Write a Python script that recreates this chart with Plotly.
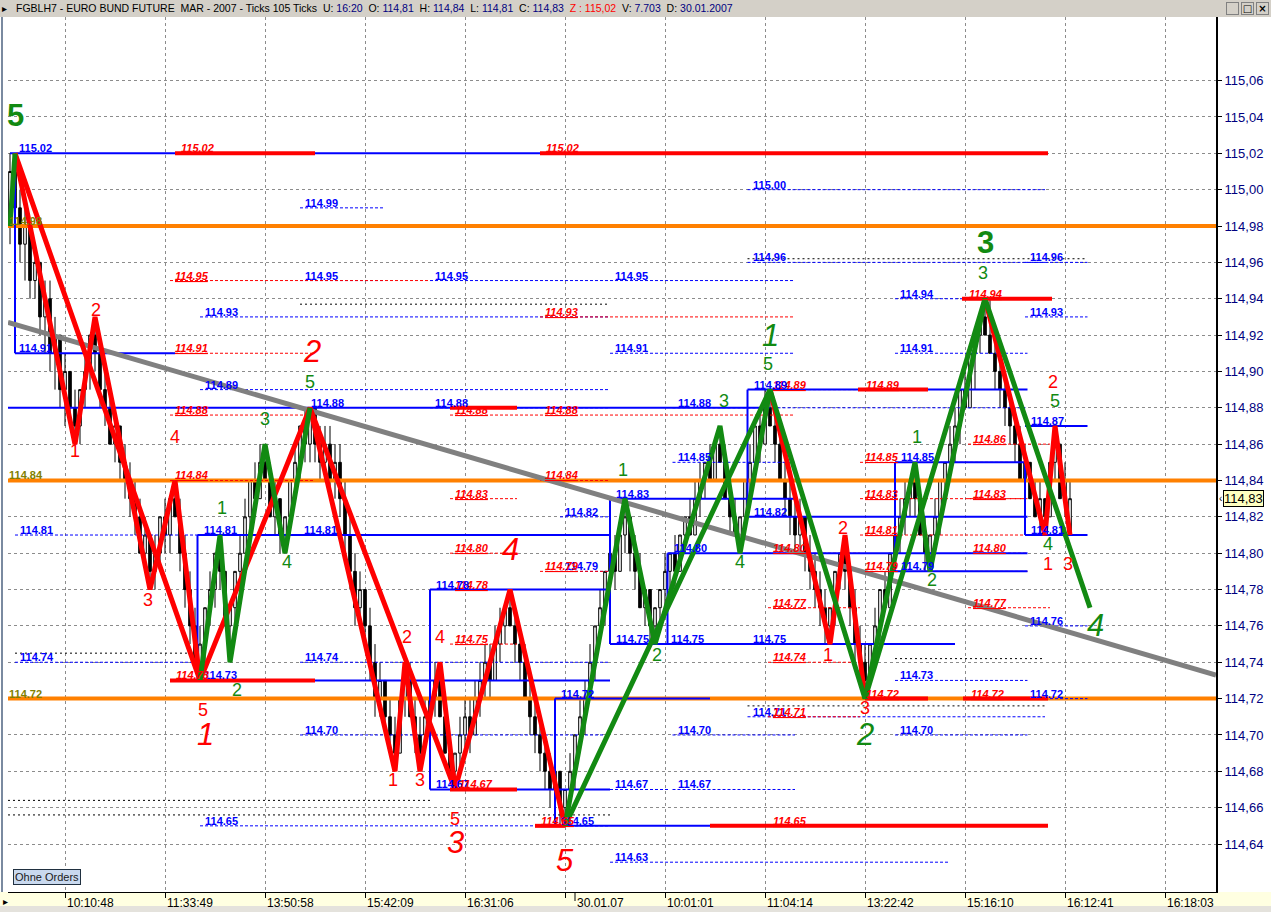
import plotly.graph_objects as go

# ---------------- data (prices in hundredths above 114.00, e.g. 102 -> 115.02) ----------------
OPEN = [98,101,99,97,98,95,96,93,94,91, 92,89,90,88,87,89,90,92,91,89,
        88,86,87,85,84,83,82,80,81,79, 80,82,81,83,82,80,78,76,74,75,
        77,78,80,79,76,77,79,80,82,84, 83,85,84,82,83,81,82,84,85,87,
        86,88,86,85,86,84,85,83,81,79, 77,78,76,74,72,73,71,70,69,72,
        73,71,70,70,71,72,73,71,69,68, 69,70,71,70,72,73,74,73,75,76,
        77,76,75,74,72,71,70,69,68,67, 68,66,67,68,70,71,72,74,76,77,
        79,80,79,81,82,80,79,77,78,76, 77,78,79,80,79,81,82,81,83,84,
        85,84,86,85,83,82,81,82,84,85, 87,86,88,87,86,84,83,82,81,82,
        80,79,78,77,76,77,79,80,79,77, 75,74,73,75,76,78,77,80,81,82,
        83,84,83,81,80,81,82,84,85,86, 87,89,88,91,92,93,92,91,90,89,
        88,87,86,84,85,83,82,83,82,85, 86,83,81]
HIGH = [102,102,100,99,98,97,96,95,95,93, 92,91,90,89,89,91,92,93,92,90,
        89,88,87,86,85,84,83,82,81,81, 82,83,83,84,83,81,79,77,76,77,
        79,80,81,79,77,79,81,83,84,85, 86,86,85,84,83,82,84,86,87,88,
        88,88,87,87,87,86,86,84,82,80, 79,78,77,75,74,73,72,71,72,74,
        74,72,71,72,73,74,74,72,70,69, 71,72,72,73,74,75,75,76,77,77,
        78,77,76,75,73,72,71,70,69,68, 68,67,69,70,72,73,75,76,78,79,
        81,81,82,83,82,81,80,78,78,77, 78,80,80,81,81,82,83,84,85,85,
        86,86,87,86,84,83,82,84,86,87, 88,89,89,88,87,85,84,83,83,82,
        81,80,79,78,77,79,80,81,79,78, 76,75,75,77,78,79,80,81,83,84,
        84,85,83,82,81,83,84,85,87,88, 89,90,91,92,93,94,94,92,91,90,
        89,88,87,86,85,84,84,83,85,87, 86,85,84]
LOW = [97,99,96,95,94,94,92,91,90,89, 88,87,87,86,86,88,89,90,88,87,
       86,85,84,83,82,81,80,79,78,78, 79,80,80,82,79,77,75,74,73,74,
       76,77,78,76,74,76,78,80,81,82, 83,84,82,81,80,80,81,83,84,85,
       85,85,84,84,83,83,82,80,78,76, 76,75,73,71,71,70,69,68,69,71,
       71,69,68,69,70,71,71,69,68,67, 68,69,69,70,71,72,72,73,74,75,
       76,74,73,72,70,69,68,67,66,66, 65,65,66,67,69,70,72,73,75,76,
       78,78,79,80,79,78,77,76,75,75, 76,77,78,78,79,80,81,81,82,83,
       84,84,85,83,81,81,80,82,83,84, 85,86,87,85,84,82,81,80,80,79,
       78,77,76,75,75,76,78,78,76,74, 73,72,73,74,75,77,77,79,80,81,
       82,82,81,79,79,80,81,83,84,85, 86,88,88,89,91,92,91,89,88,87,
       86,85,84,84,83,82,81,81,82,84, 83,82,81]
CLOSE = [101,99,97,98,95,96,93,94,91,92, 89,90,88,87,89,90,92,91,89,88,
         86,87,85,84,83,82,80,81,79,80, 82,81,83,82,80,78,76,74,75,77,
         78,80,79,76,77,79,80,82,84,83, 85,84,82,83,81,82,84,85,87,86,
         88,86,85,86,84,85,83,81,79,77, 78,76,74,72,73,71,70,69,72,73,
         71,70,69,71,72,73,71,69,68,69, 70,71,70,72,73,74,73,75,76,77,
         76,75,74,72,71,70,69,68,67,68, 66,67,68,70,71,72,74,76,77,79,
         80,79,81,82,80,79,77,78,76,77, 78,79,80,79,81,82,81,83,84,85,
         84,86,85,83,82,81,82,84,85,87, 86,88,87,86,84,83,82,81,82,80,
         79,78,77,76,77,79,80,79,77,75, 74,73,75,76,78,77,80,81,82,83,
         84,83,81,80,81,82,84,85,86,87, 89,88,91,92,93,92,91,90,89,88,
         87,86,84,85,83,82,83,82,85,86, 83,84,83]

X_TICK_BARS = [11, 31, 51, 71, 91, 111, 131, 151, 171, 191, 211, 231]
X_TICK_TEXT = ["10:10:48", "11:33:49", "13:50:58", "15:42:09", "16:31:06", "",
               "10:01:01", "11:04:14", "13:22:42", "15:16:10", "16:12:41", "16:18:03"]
DATE_BAR = 113
DATE_TEXT = "30.01.07"

PRICE_TICKS = [114.64, 114.66, 114.68, 114.70, 114.72, 114.74, 114.76, 114.78, 114.80, 114.82, 114.84,
               114.86, 114.88, 114.90, 114.92, 114.94, 114.96, 114.98, 115.00, 115.02, 115.04, 115.06]
PRICE_TICK_TEXT = ["114,64", "114,66", "114,68", "114,70", "114,72", "114,74", "114,76", "114,78", "114,80",
                   "114,82", "114,84", "114,86", "114,88", "114,90", "114,92", "114,94", "114,96", "114,98",
                   "115,00", "115,02", "115,04", "115,06"]

# zigzag wave pivots (bar index, price)
RED_MINOR = [
    ([1, 13, 17, 28, 33, 38], [115.02, 114.86, 114.93, 114.78, 114.84, 114.73]),
    ([60, 77, 79, 82, 86, 89], [114.88, 114.68, 114.74, 114.68, 114.74, 114.67]),
    ([152, 164, 167, 171], [114.89, 114.75, 114.81, 114.72]),
    ([195, 207, 209, 212], [114.94, 114.81, 114.87, 114.81]),
]
RED_MAJOR = ([1, 38, 60, 89, 100, 111], [115.02, 114.73, 114.88, 114.67, 114.78, 114.65])
GREEN_MINOR = [
    ([0, 1], [114.98, 115.02]),
    ([38, 42, 44, 51, 55, 60], [114.73, 114.81, 114.74, 114.86, 114.80, 114.88]),
    ([111, 123, 129, 142, 146, 152], [114.65, 114.83, 114.75, 114.87, 114.80, 114.89]),
    ([171, 181, 184, 195], [114.72, 114.85, 114.79, 114.94]),
]
GREEN_MAJOR = ([111, 152, 171, 195, 216], [114.65, 114.89, 114.72, 114.94, 114.77])
TRENDLINE = ([-0.4, 241.2], [114.927, 114.733])

# wave count labels: (text, bar, price)
RED_MINOR_LABELS = [("1", 13, 114.856), ("2", 17.2, 114.934), ("3", 27.6, 114.774), ("4", 33, 114.864),
                    ("5", 38.6, 114.714), ("1", 76.6, 114.675), ("2", 79.4, 114.754), ("3", 82, 114.675),
                    ("4", 86, 114.754), ("5", 89, 114.654), ("1", 163.6, 114.744), ("2", 166.6, 114.814),
                    ("3", 171, 114.715), ("1", 207.6, 114.794), ("2", 208.6, 114.894), ("3", 211.6, 114.794)]
RED_MAJOR_LABELS = [("1", 39, 114.700), ("2", 60.4, 114.911), ("3", 89, 114.641), ("4", 100, 114.802),
                    ("5", 111, 114.631)]
GREEN_MINOR_LABELS = [("1", 42.4, 114.825), ("2", 45.4, 114.725), ("3", 51, 114.874), ("4", 55.4, 114.795),
                      ("5", 60, 114.894), ("1", 122.6, 114.846), ("2", 129.4, 114.744), ("3", 142.8, 114.884),
                      ("4", 146, 114.795), ("5", 151.6, 114.904), ("1", 181.4, 114.864), ("2", 184.4, 114.785),
                      ("3", 194.6, 114.954), ("4", 207.6, 114.805), ("5", 209, 114.884)]
GREEN_MAJOR_LABELS = [("5", 1, 115.041, False), ("1", 152, 114.920, True), ("2", 171, 114.700, True),
                      ("3", 195, 114.971, False), ("4", 217, 114.760, True)]

# horizontal levels
ORANGE_LEVELS = [114.98, 114.84, 114.72]
BLUE_SOLID = [(115.02, 0, 106), (114.91, 1, 33), (114.88, -0.4, 150), (114.81, 37.5, 120), (114.73, 37.5, 120),
              (114.78, 84, 120), (114.67, 84, 120), (114.72, 109, 140), (114.65, 109, 207.6), (114.83, 120, 157),
              (114.75, 120, 189), (114.80, 131.5, 203.5), (114.89, 147.5, 203.5), (114.82, 147.5, 203.5),
              (114.85, 177, 203.5), (114.79, 177, 203.5), (114.87, 203, 215.5), (114.81, 203, 215.5)]
BLUE_VERTICAL = [(1, 115.02, 114.91), (37.5, 114.81, 114.73), (84, 114.78, 114.67), (109, 114.72, 114.65),
                 (120, 114.83, 114.75), (131.5, 114.80, 114.75), (147.5, 114.89, 114.82), (177, 114.85, 114.79),
                 (203, 114.85, 114.81)]
BLUE_SOLID_LABELS = [(115.02, 1.5), (114.91, 1.5), (114.88, 60), (114.81, 38.5), (114.81, 58.5), (114.73, 38.5),
                     (114.78, 85), (114.67, 85), (114.72, 110), (114.65, 110), (114.83, 121), (114.75, 121),
                     (114.75, 132), (114.80, 132.5), (114.89, 148.5), (114.82, 148.5), (114.85, 178),
                     (114.79, 178), (114.87, 204), (114.81, 204)]
RED_THICK = [(115.02, 33, 61), (115.02, 106, 207.6), (114.73, 32, 61), (114.88, 88, 101.4), (114.67, 88, 101.4),
             (114.65, 105, 111), (114.65, 140, 207.6), (114.89, 169.6, 183.6), (114.94, 190.4, 208.4),
             (114.72, 171, 183.6), (114.72, 190.6, 207.6)]
RED_DASHED = [(114.95, 32, 84), (114.91, 32, 61), (114.876, 32, 61), (114.84, 32, 61), (114.876, 88, 106),
              (114.876, 106, 157), (114.93, 106, 157), (114.84, 106, 120), (114.83, 88, 101.4),
              (114.80, 88, 101.4), (114.79, 106, 120), (114.78, 88, 101.4), (114.75, 88, 101.4),
              (114.89, 151.6, 170), (114.85, 170, 203.5), (114.83, 170, 203.5), (114.81, 170, 203.5),
              (114.79, 170, 203.5), (114.80, 151.6, 170), (114.77, 151.6, 170), (114.74, 151.6, 170),
              (114.71, 151.6, 170), (114.83, 191.6, 203.5), (114.77, 191.6, 208), (114.86, 191.6, 208),
              (114.80, 191.6, 203.5), (114.65, 151.6, 170)]
RED_THICK_LABELS = [(115.02, 34), (115.02, 107), (114.94, 191.5), (114.89, 171), (114.72, 192), (114.72, 171),
                    (114.67, 89.5), (114.73, 33), (114.65, 106)]
BLUE_DASHED = [(114.99, 58, 75), (114.95, 58, 75), (114.93, 38, 120), (114.95, 84, 120), (114.95, 120, 157),
               (115.00, 147.5, 207), (114.96, 147.5, 207), (114.94, 177, 207), (114.96, 203, 215.5),
               (114.93, 203, 215.5), (114.91, 120, 157), (114.91, 177, 203.5), (114.89, 38, 120),
               (114.88, 84, 120), (114.88, 132.5, 203.5), (114.85, 132.5, 157), (114.81, 1, 38),
               (114.74, 1, 38), (114.74, 58, 120), (114.70, 58, 120), (114.70, 132.5, 157), (114.70, 177, 203.5),
               (114.71, 147.5, 207), (114.73, 177, 203.5), (114.75, 147.5, 189), (114.76, 203, 215.5),
               (114.72, 203, 215.5), (114.67, 120, 132), (114.67, 132.5, 157), (114.65, 38, 120),
               (114.63, 120, 188), (114.79, 110, 120), (114.82, 110, 120)]
BLACK_DASHED = [(114.664, -0.4, 84), (114.656, -0.4, 120), (114.937, 58, 120), (114.716, 147.5, 207),
                (114.745, 1, 38), (114.742, 177, 207), (114.962, 147.5, 215.5)]

TITLE_PARTS = [("FGBLH7 - EURO BUND FUTURE  MAR - 2007 - Ticks 105 Ticks  U: ", "#000000"), ("16:20", "#000080"),
               ("  O: ", "#000000"), ("114,81", "#000080"), ("  H: ", "#000000"), ("114,84", "#000080"),
               ("  L: ", "#000000"), ("114,81", "#000080"), ("  C: ", "#000000"), ("114,83", "#000080"),
               ("  Z : 115,02", "#ff0000"), ("  V: ", "#000000"), ("7.703", "#000080"), ("  D: ", "#000000"),
               ("30.01.2007", "#000080")]
LAST_PRICE_TEXT = "114,83"

# ---------------- figure ----------------
def px(v):
    return 114 + v / 100.0

FONT = "Liberation Sans"
RED = "#ff0000"
GREEN = "#128a12"
BLUE = "#0000ff"
ORANGE = "#ff8000"

fig = go.Figure()

def seg_trace(segs, color, width, dash="solid"):
    xs, ys = [], []
    for p, b0, b1 in segs:
        xs += [b0, b1, None]
        ys += [p, p, None]
    fig.add_trace(go.Scatter(x=xs, y=ys, mode="lines", line=dict(color=color, width=width, dash=dash),
                             hoverinfo="skip", showlegend=False))

bars = list(range(len(OPEN)))
fig.add_trace(go.Candlestick(
    x=bars, open=[px(v) for v in OPEN], high=[px(v) for v in HIGH],
    low=[px(v) for v in LOW], close=[px(v) for v in CLOSE],
    increasing=dict(line=dict(color="#000000", width=1), fillcolor="#ffffff"),
    decreasing=dict(line=dict(color="#000000", width=1), fillcolor="#000000"),
    whiskerwidth=0, showlegend=False, hoverinfo="skip"))

# level lines
seg_trace([(p, -0.4, 241.2) for p in ORANGE_LEVELS], ORANGE, 4)
seg_trace(BLACK_DASHED, "#000000", 1, "2px,3px")
seg_trace(BLUE_DASHED, BLUE, 1, "3px,2px")
seg_trace(RED_DASHED, RED, 1, "3px,2px")
seg_trace(BLUE_SOLID, BLUE, 2)
xs, ys = [], []
for b, p0, p1 in BLUE_VERTICAL:
    xs += [b, b, None]
    ys += [p0, p1, None]
fig.add_trace(go.Scatter(x=xs, y=ys, mode="lines", line=dict(color=BLUE, width=2),
                         hoverinfo="skip", showlegend=False))
seg_trace(RED_THICK, RED, 4)

# trendline and zigzags
fig.add_trace(go.Scatter(x=TRENDLINE[0], y=TRENDLINE[1], mode="lines", line=dict(color="#808080", width=5),
                         hoverinfo="skip", showlegend=False))
for bx, py in [RED_MAJOR] + RED_MINOR:
    fig.add_trace(go.Scatter(x=bx, y=py, mode="lines", line=dict(color=RED, width=5),
                             hoverinfo="skip", showlegend=False))
for bx, py in [GREEN_MAJOR] + GREEN_MINOR:
    fig.add_trace(go.Scatter(x=bx, y=py, mode="lines", line=dict(color=GREEN, width=5),
                             hoverinfo="skip", showlegend=False))

ann = []

def level_label(p, bar, color, red_style):
    t = f"<b><i><u>{p:.2f}</u></i></b>" if red_style else f"<b>{p:.2f}</b>"
    ann.append(dict(x=bar, y=p, text=t, xanchor="left", yanchor="bottom", showarrow=False,
                    font=dict(family=FONT, size=11, color=color), yshift=-2, borderpad=0))

for p, b0, b1 in BLUE_DASHED:
    level_label(p, b0 + 0.8, BLUE, False)
for p, b0, b1 in RED_DASHED:
    level_label(p, b0 + 0.8, RED, True)
for p, b in BLUE_SOLID_LABELS:
    level_label(p, b, BLUE, False)
for p, b in RED_THICK_LABELS:
    level_label(p, b, RED, True)
for p in ORANGE_LEVELS:
    ann.append(dict(x=-0.4, y=p, text=f"<b>{p:.2f}</b>", xanchor="left", yanchor="bottom", showarrow=False,
                    font=dict(family=FONT, size=11, color="#808000"), yshift=-2, borderpad=0))

for t, b, p in RED_MINOR_LABELS:
    ann.append(dict(x=b, y=p, text=t, showarrow=False, font=dict(family=FONT, size=18, color=RED)))
for t, b, p in RED_MAJOR_LABELS:
    ann.append(dict(x=b, y=p, text=f"<i>{t}</i>", showarrow=False, font=dict(family=FONT, size=31, color=RED)))
for t, b, p in GREEN_MINOR_LABELS:
    ann.append(dict(x=b, y=p, text=t, showarrow=False, font=dict(family=FONT, size=18, color=GREEN)))
for t, b, p, it in GREEN_MAJOR_LABELS:
    txt = f"<i>{t}</i>" if it else f"<b>{t}</b>"
    ann.append(dict(x=b, y=p, text=txt, showarrow=False, font=dict(family=FONT, size=31, color=GREEN)))

# x-axis labels (left aligned after tick)
for b, t in zip(X_TICK_BARS, X_TICK_TEXT):
    if t:
        ann.append(dict(x=b, y=0, yref="paper", text=t, xanchor="left", yanchor="top", showarrow=False,
                        xshift=0, yshift=-2, font=dict(family=FONT, size=12, color="#000000")))
ann.append(dict(x=DATE_BAR, y=0, yref="paper", text=DATE_TEXT, xanchor="left", yanchor="top", showarrow=False,
                yshift=-2, font=dict(family=FONT, size=12, color="#000000")))

# title bar text
title_html = "".join(f"<span style='color:{c}'>{s.replace('  ', '&nbsp; ')}</span>" for s, c in TITLE_PARTS)
ann.append(dict(x=6 / 1208, y=1 + 8.5 / 875, xref="paper", yref="paper", text=title_html, xanchor="left",
                yanchor="middle", showarrow=False, font=dict(family=FONT, size=10.5, color="#000000")))
ann.append(dict(x=-4 / 1208, y=1 + 8.5 / 875, xref="paper", yref="paper", text="▸", xanchor="center",
                yanchor="middle", showarrow=False, font=dict(family=FONT, size=10, color="#000000")))
for k, sym in enumerate(["_", "□", "×"]):
    ann.append(dict(x=1 + (16 + 15 * k) / 1208, y=1 + 8.5 / 875, xref="paper", yref="paper",
                    text=f"<b>{sym}</b>", xanchor="center", yanchor="middle", showarrow=False,
                    bgcolor="#d4d0c8", bordercolor="#808080", borderwidth=1, borderpad=0, width=11, height=11,
                    font=dict(family="DejaVu Sans", size=10, color="#000000")))
# Ohne Orders button
ann.append(dict(x=5 / 1208, y=15 / 875, xref="paper", yref="paper", text="Ohne Orders", xanchor="left",
                yanchor="middle", showarrow=False, bgcolor="#c9d9ef", bordercolor="#203040", borderwidth=1,
                borderpad=1, font=dict(family=FONT, size=11, color="#1a1a1a")))
# last price tag
ann.append(dict(x=1, xref="paper", y=px(CLOSE[-1]), text=LAST_PRICE_TEXT, xanchor="left", yanchor="middle",
                showarrow=False, xshift=7, bgcolor="#ffffc0", bordercolor="#000000", borderwidth=1, borderpad=0,
                font=dict(family=FONT, size=13, color="#000000")))
ann.append(dict(x=1, xref="paper", y=px(CLOSE[-1]), text="‹", xanchor="left", yanchor="middle",
                showarrow=False, xshift=1, font=dict(family=FONT, size=10, color="#000000")))
ann.append(dict(x=-7 / 1208, y=-10 / 875, xref="paper", yref="paper", text="▸", xanchor="left",
                yanchor="middle", showarrow=False, font=dict(family=FONT, size=10, color="#000000")))

shapes = [
    dict(type="rect", xref="paper", yref="paper", x0=-8 / 1208, x1=1 + 55 / 1208, y0=1, y1=1 + 17 / 875,
         fillcolor="#d4d0c8", line=dict(width=0), layer="below"),
    dict(type="rect", xref="paper", yref="paper", x0=-8 / 1208, x1=1 + 55 / 1208, y0=-20 / 875, y1=0,
         fillcolor="#ffffe1", line=dict(width=0), layer="below"),
    dict(type="rect", xref="paper", yref="paper", x0=-8 / 1208, x1=1 + 55 / 1208, y0=-20 / 875, y1=-14 / 875,
         fillcolor="#e4e2dc", line=dict(width=0), layer="below"),
    dict(type="line", xref="paper", yref="paper", x0=-6 / 1208, x1=-6 / 1208, y0=0, y1=1,
         line=dict(color="#7a8aa0", width=2)),
    dict(type="line", x0=DATE_BAR, x1=DATE_BAR, yref="paper", y0=0, y1=-9 / 875,
         line=dict(color="#000000", width=1)),
]

fig.update_layout(
    width=1271, height=912, margin=dict(l=8, r=55, t=17, b=20),
    paper_bgcolor="#ffffff", plot_bgcolor="#ffffff", showlegend=False,
    annotations=ann, shapes=shapes, boxgap=0.25,
    xaxis=dict(range=[-0.4, 241.2], tickvals=X_TICK_BARS, ticktext=[""] * len(X_TICK_BARS),
               showgrid=True, gridcolor="#8c8c8c", griddash="dot", gridwidth=1,
               ticks="outside", ticklen=5, tickcolor="#000000", showline=True, linecolor="#000000",
               linewidth=1, zeroline=False, rangeslider=dict(visible=False), fixedrange=True),
    yaxis=dict(range=[114.6136, 115.095], side="right", tickvals=PRICE_TICKS, ticktext=PRICE_TICK_TEXT,
               showgrid=True, gridcolor="#8c8c8c", griddash="dot", gridwidth=1,
               ticks="outside", ticklen=4, tickcolor="#000000", showline=True, linecolor="#000000",
               linewidth=2, zeroline=False, fixedrange=True,
               tickfont=dict(family=FONT, size=13, color="#000080")),
)

fig.write_html("out.html", config={"displayModeBar": False},
               post_script="document.body.style.margin='0';document.body.style.overflow='hidden';")
